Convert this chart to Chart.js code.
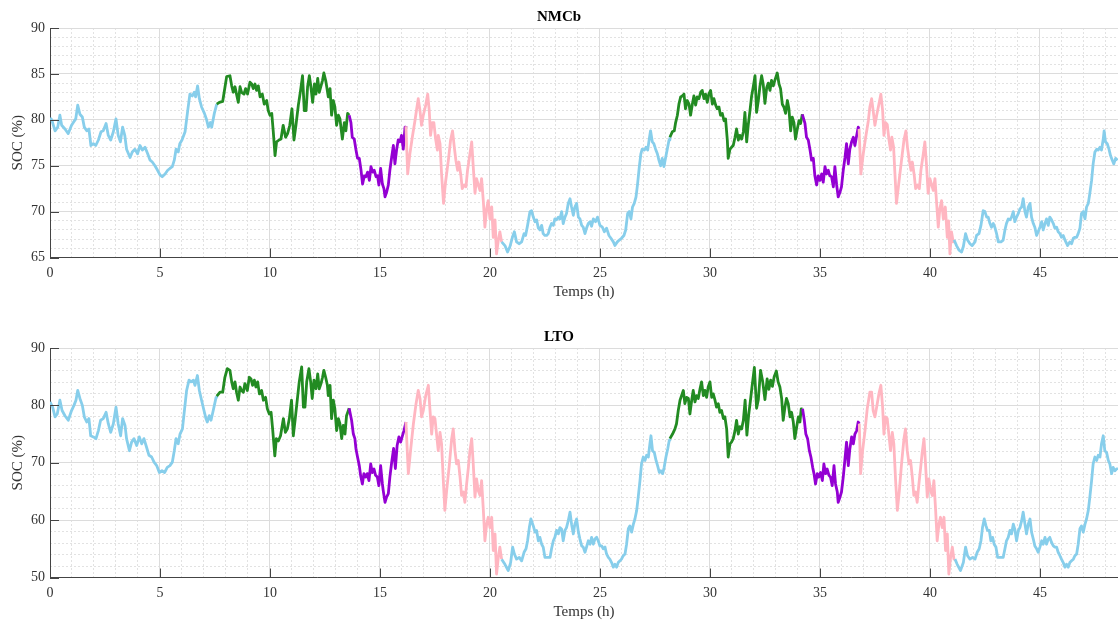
<!DOCTYPE html>
<html><head><meta charset="utf-8">
<script src="https://cdn.jsdelivr.net/npm/chart.js@4.4.0/dist/chart.umd.min.js"></script>
<style>
html,body{margin:0;padding:0;background:#fff;overflow:hidden;width:1118px;height:621px;}
.wrap{position:absolute;left:0;width:1118px;height:305px;}
</style></head><body>
<div class="wrap" style="top:0"><canvas id="c1" width="1118" height="305"></canvas></div>
<div class="wrap" style="top:320px"><canvas id="c2" width="1118" height="305"></canvas></div>
<script>
// ---------- DATA ----------
const xTicks = [0, 5, 10, 15, 20, 25, 30, 35, 40, 45];
const titles = ['NMCb', 'LTO'];
const xLabel = 'Temps (h)';
const yLabel = 'SOC (%)';
// phase boundaries (h) and phase kind (0: blue, 1: green, 2: purple, 3: pink)
const phaseStart = [0, 7.58, 13.6, 16.18, 20.5, 28.18, 34.21, 36.79, 41.12];
const phaseKind  = [0, 1, 2, 3, 0, 1, 2, 3, 0];

// [time (h), SOC (%)]
const nmcbPoints = [
[0,80.2],[0.08,80.0],[0.23,78.8],[0.35,79.2],[0.45,80.5],[0.53,79.4],[0.68,79.0],[0.83,78.5],[0.98,79.4],[1.06,79.7],[1.17,80.1],[1.26,81.6],[1.36,80.6],[1.47,80.3],[1.56,79.2],[1.67,78.8],[1.77,79.0],[1.86,77.2],[1.97,77.4],[2.08,77.2],[2.2,77.8],[2.32,78.7],[2.42,78.8],[2.55,79.6],[2.65,78.3],[2.76,77.8],[2.88,78.7],[3.0,80.1],[3.1,78.3],[3.2,77.6],[3.3,79.2],[3.4,78.3],[3.48,76.8],[3.64,75.9],[3.74,76.5],[3.86,76.8],[3.98,76.3],[4.09,77.2],[4.2,76.7],[4.32,77.0],[4.44,76.3],[4.55,75.6],[4.65,75.4],[4.77,75.0],[4.89,74.5],[5.0,74.0],[5.1,73.8],[5.23,74.1],[5.35,74.5],[5.45,74.7],[5.56,74.9],[5.65,75.6],[5.73,76.8],[5.83,76.5],[5.9,77.4],[6.0,77.8],[6.14,78.7],[6.26,81.0],[6.36,82.8],[6.47,82.6],[6.56,83.0],[6.62,82.5],[6.71,83.7],[6.79,82.3],[6.89,81.4],[7.02,80.7],[7.12,80.0],[7.2,79.2],[7.29,79.7],[7.35,79.2],[7.47,80.7],[7.58,81.7],
[7.7,81.9],[7.85,82.0],[7.95,83.5],[8.03,84.7],[8.18,84.8],[8.26,83.7],[8.33,83.0],[8.41,83.6],[8.48,82.8],[8.56,81.9],[8.64,83.6],[8.71,83.0],[8.82,82.8],[8.89,83.4],[8.98,82.8],[9.09,84.1],[9.17,83.9],[9.24,83.4],[9.32,83.9],[9.39,83.2],[9.47,83.7],[9.55,82.5],[9.65,82.8],[9.74,81.7],[9.85,82.1],[9.92,81.0],[10.0,80.5],[10.08,80.7],[10.15,78.7],[10.23,76.1],[10.3,77.6],[10.41,77.8],[10.5,77.9],[10.6,79.4],[10.71,78.1],[10.8,78.5],[10.9,79.4],[11.0,81.2],[11.09,77.8],[11.18,79.4],[11.29,81.6],[11.39,83.2],[11.48,84.8],[11.56,81.0],[11.64,81.0],[11.71,83.6],[11.79,84.8],[11.86,83.6],[11.94,81.9],[12.02,83.9],[12.09,82.8],[12.17,84.5],[12.24,83.0],[12.32,83.7],[12.39,84.3],[12.45,85.1],[12.53,84.3],[12.58,83.6],[12.65,82.5],[12.73,83.4],[12.8,80.5],[12.88,82.1],[12.95,81.4],[13.03,79.4],[13.11,80.5],[13.18,80.1],[13.29,77.9],[13.38,79.7],[13.45,78.8],[13.53,80.7],[13.6,80.5],
[13.68,79.7],[13.74,78.1],[13.83,77.9],[13.91,76.7],[13.98,75.8],[14.06,75.8],[14.14,74.5],[14.21,73.0],[14.29,73.9],[14.36,73.8],[14.44,74.3],[14.52,73.4],[14.59,74.9],[14.67,74.3],[14.74,74.5],[14.82,73.8],[14.89,73.9],[14.95,72.9],[15.03,74.7],[15.11,73.0],[15.18,72.5],[15.23,71.6],[15.3,72.1],[15.38,72.9],[15.45,74.5],[15.53,75.9],[15.61,77.2],[15.68,75.2],[15.76,76.8],[15.83,77.8],[15.91,77.6],[15.98,78.3],[16.06,76.8],[16.14,79.2],[16.18,79.3],
[16.26,74.1],[16.36,76.3],[16.47,78.1],[16.59,79.9],[16.67,81.2],[16.74,82.3],[16.82,81.0],[16.89,79.4],[16.97,80.5],[17.08,81.6],[17.17,82.8],[17.24,81.0],[17.3,78.3],[17.38,79.7],[17.45,79.7],[17.53,77.9],[17.61,76.7],[17.65,78.3],[17.73,77.4],[17.8,74.1],[17.89,70.9],[17.98,73.2],[18.11,75.6],[18.21,77.8],[18.3,78.8],[18.38,77.0],[18.45,75.6],[18.53,74.5],[18.59,75.4],[18.68,73.9],[18.74,72.5],[18.83,72.9],[18.91,72.7],[18.98,74.5],[19.09,76.3],[19.17,77.6],[19.24,74.9],[19.32,72.0],[19.39,73.6],[19.47,72.9],[19.55,72.3],[19.62,73.6],[19.7,71.1],[19.77,68.3],[19.85,70.3],[19.92,71.2],[20.0,69.2],[20.08,70.5],[20.15,67.2],[20.23,69.1],[20.3,65.4],[20.38,66.9],[20.45,67.8],[20.53,66.7],
[20.68,66.3],[20.8,65.6],[20.91,66.2],[21.02,67.2],[21.11,67.8],[21.21,66.7],[21.32,66.5],[21.44,66.7],[21.55,67.6],[21.62,67.4],[21.71,68.5],[21.82,70.0],[21.89,70.1],[21.97,69.4],[22.05,68.9],[22.12,69.1],[22.2,68.2],[22.27,68.0],[22.35,68.5],[22.42,67.6],[22.5,67.4],[22.58,67.4],[22.65,67.6],[22.73,68.3],[22.8,68.7],[22.88,68.5],[22.95,69.2],[23.03,69.1],[23.11,69.4],[23.18,69.2],[23.26,70.0],[23.33,68.7],[23.41,69.4],[23.48,69.8],[23.56,70.9],[23.64,71.4],[23.71,70.5],[23.79,69.6],[23.86,70.5],[23.94,70.9],[24.02,69.4],[24.09,69.2],[24.17,68.5],[24.24,68.3],[24.32,67.6],[24.39,68.2],[24.47,68.7],[24.55,68.9],[24.62,68.4],[24.7,69.2],[24.8,68.9],[24.89,69.4],[25.0,68.5],[25.11,68.3],[25.2,67.8],[25.3,68.2],[25.41,67.4],[25.5,67.1],[25.61,66.7],[25.68,66.3],[25.79,66.7],[25.88,66.9],[25.98,67.1],[26.09,67.4],[26.17,68.0],[26.26,69.8],[26.33,70.0],[26.41,69.2],[26.48,70.5],[26.56,70.9],[26.64,71.6],[26.71,73.0],[26.79,74.9],[26.86,76.3],[26.92,76.8],[27.02,76.7],[27.09,77.0],[27.17,76.7],[27.24,77.9],[27.3,78.8],[27.38,77.6],[27.45,77.4],[27.53,76.8],[27.61,76.3],[27.68,75.6],[27.76,75.0],[27.83,75.8],[27.91,74.9],[27.98,75.8],[28.06,76.8],[28.14,77.8],[28.18,78.1],
[28.29,78.7],[28.38,78.8],[28.44,79.7],[28.52,80.5],[28.59,81.7],[28.67,82.5],[28.74,82.6],[28.82,82.8],[28.89,81.2],[28.97,82.1],[29.05,81.7],[29.12,80.5],[29.2,81.7],[29.27,82.6],[29.35,81.6],[29.42,82.5],[29.5,82.3],[29.58,83.0],[29.65,83.2],[29.73,82.3],[29.8,82.8],[29.88,81.9],[29.95,82.8],[30.03,83.2],[30.11,81.7],[30.18,82.3],[30.26,81.6],[30.33,81.2],[30.41,81.4],[30.48,80.5],[30.56,80.7],[30.64,79.9],[30.71,80.1],[30.79,77.8],[30.83,75.8],[30.91,76.8],[30.98,77.0],[31.06,77.2],[31.14,78.1],[31.21,79.0],[31.29,77.8],[31.36,78.3],[31.44,77.9],[31.52,78.7],[31.59,80.8],[31.67,77.6],[31.74,79.4],[31.82,81.0],[31.89,82.5],[31.97,83.6],[32.05,84.8],[32.12,80.8],[32.2,82.1],[32.27,83.6],[32.35,84.8],[32.42,83.9],[32.5,81.8],[32.58,83.5],[32.65,84.0],[32.73,83.2],[32.8,84.3],[32.88,83.7],[32.95,84.3],[33.06,85.1],[33.14,83.9],[33.21,83.4],[33.29,81.7],[33.36,81.4],[33.44,80.7],[33.52,82.1],[33.59,81.2],[33.67,78.8],[33.74,80.3],[33.82,79.7],[33.89,77.9],[33.97,79.0],[34.05,79.9],[34.12,79.6],[34.2,80.6],
[34.32,79.6],[34.39,78.1],[34.47,77.8],[34.55,76.7],[34.62,75.6],[34.7,75.8],[34.77,73.9],[34.85,72.9],[34.92,73.9],[35.0,73.4],[35.08,74.1],[35.15,73.2],[35.23,74.9],[35.3,74.1],[35.38,74.5],[35.45,73.9],[35.53,73.8],[35.61,72.7],[35.68,74.9],[35.76,72.9],[35.83,71.6],[35.91,72.1],[35.98,72.7],[36.06,74.5],[36.14,75.9],[36.21,77.4],[36.29,75.2],[36.36,76.8],[36.44,77.6],[36.52,78.1],[36.59,77.2],[36.67,78.3],[36.74,79.2],[36.78,79.0],
[36.86,74.1],[36.97,76.3],[37.08,78.1],[37.2,79.9],[37.27,81.4],[37.35,82.3],[37.42,81.0],[37.5,79.4],[37.58,80.5],[37.68,81.7],[37.77,82.8],[37.85,81.0],[37.91,78.3],[37.98,79.7],[38.06,79.5],[38.14,77.8],[38.21,76.7],[38.27,78.1],[38.35,77.0],[38.41,74.1],[38.48,70.9],[38.59,73.2],[38.71,75.6],[38.82,77.8],[38.91,78.8],[38.98,77.0],[39.06,75.6],[39.14,74.5],[39.2,75.4],[39.29,73.9],[39.35,72.5],[39.44,72.9],[39.52,72.5],[39.59,74.5],[39.7,76.3],[39.77,77.6],[39.85,74.9],[39.92,72.0],[40.0,73.6],[40.08,72.9],[40.15,72.3],[40.23,73.6],[40.3,71.1],[40.38,68.3],[40.45,70.3],[40.53,71.2],[40.61,69.2],[40.7,70.5],[40.79,67.2],[40.85,69.0],[40.91,65.4],[40.98,67.8],[41.06,66.7],[41.1,66.9],
[41.21,66.3],[41.32,65.8],[41.44,65.6],[41.52,66.2],[41.62,67.6],[41.71,66.9],[41.82,66.5],[41.92,66.3],[42.05,66.7],[42.12,67.4],[42.23,67.6],[42.32,68.5],[42.42,70.1],[42.5,70.0],[42.58,69.4],[42.65,69.4],[42.73,68.7],[42.8,68.3],[42.88,68.7],[42.95,68.3],[43.03,67.6],[43.11,66.7],[43.23,66.7],[43.33,66.9],[43.41,68.0],[43.48,68.7],[43.56,69.2],[43.64,69.1],[43.71,69.4],[43.79,70.0],[43.86,68.9],[43.94,69.4],[44.02,69.8],[44.09,70.3],[44.17,70.5],[44.24,71.4],[44.32,70.0],[44.39,69.4],[44.47,70.5],[44.55,70.9],[44.62,69.4],[44.7,68.7],[44.77,68.3],[44.85,67.4],[44.92,67.8],[45.0,68.3],[45.08,68.9],[45.15,68.0],[45.23,68.7],[45.3,69.2],[45.38,68.5],[45.45,69.4],[45.53,69.1],[45.61,68.7],[45.68,68.2],[45.76,68.3],[45.83,67.8],[45.91,67.6],[45.98,67.2],[46.06,67.4],[46.14,66.9],[46.26,66.3],[46.36,66.7],[46.44,66.5],[46.52,67.1],[46.59,67.2],[46.67,67.2],[46.74,67.6],[46.82,68.2],[46.89,69.8],[46.97,70.0],[47.05,69.2],[47.12,70.5],[47.2,70.9],[47.27,72.0],[47.35,73.4],[47.42,75.2],[47.5,76.5],[47.58,76.8],[47.65,76.7],[47.73,77.0],[47.8,76.7],[47.88,77.9],[47.92,78.8],[47.98,77.6],[48.06,77.4],[48.14,76.8],[48.21,76.1],[48.29,75.6],[48.36,75.2],[48.44,75.8],[48.53,75.6]
];

const ltoPoints = [
[0,80.6],[0.12,79.7],[0.23,78.0],[0.33,78.5],[0.45,80.9],[0.55,79.1],[0.68,78.2],[0.83,77.4],[0.98,79.1],[1.09,80.0],[1.18,80.9],[1.26,82.6],[1.36,81.2],[1.47,80.0],[1.56,78.0],[1.67,77.1],[1.77,77.7],[1.85,74.7],[1.97,74.5],[2.09,74.2],[2.2,75.6],[2.3,77.4],[2.42,77.7],[2.55,78.8],[2.65,76.8],[2.76,75.3],[2.88,76.8],[3.0,79.7],[3.1,76.8],[3.21,74.7],[3.3,77.7],[3.41,76.5],[3.48,74.2],[3.61,72.1],[3.71,73.6],[3.82,74.2],[3.94,73.0],[4.06,74.5],[4.17,73.3],[4.27,74.2],[4.39,72.7],[4.5,71.3],[4.62,71.0],[4.73,70.1],[4.85,69.5],[4.97,68.3],[5.09,68.6],[5.21,68.3],[5.33,69.2],[5.45,69.5],[5.56,70.1],[5.65,72.1],[5.73,74.2],[5.83,73.3],[5.91,75.0],[6.02,75.9],[6.11,79.1],[6.21,82.6],[6.32,84.4],[6.41,84.1],[6.52,84.4],[6.59,83.5],[6.7,85.2],[6.79,82.6],[6.89,80.9],[7.0,79.1],[7.09,77.7],[7.15,77.1],[7.24,78.2],[7.32,77.4],[7.42,79.1],[7.55,81.4],[7.58,81.6],
[7.73,82.3],[7.85,82.3],[7.95,84.9],[8.06,86.4],[8.18,86.1],[8.26,84.1],[8.33,82.9],[8.41,84.1],[8.48,82.3],[8.56,80.9],[8.64,83.2],[8.71,82.6],[8.79,82.3],[8.86,83.8],[8.97,82.6],[9.06,84.9],[9.14,84.6],[9.21,83.5],[9.29,84.4],[9.36,83.2],[9.44,84.1],[9.52,82.0],[9.62,82.6],[9.7,80.9],[9.8,81.4],[9.88,79.4],[9.97,78.5],[10.05,78.8],[10.12,75.9],[10.22,71.2],[10.29,74.2],[10.38,73.8],[10.48,74.7],[10.61,77.7],[10.7,75.3],[10.79,75.9],[10.88,77.7],[10.98,80.9],[11.06,74.7],[11.14,77.4],[11.24,80.9],[11.33,84.1],[11.44,86.7],[11.52,79.7],[11.59,79.7],[11.67,84.1],[11.77,86.4],[11.85,84.1],[11.92,81.2],[12.0,84.4],[12.09,82.9],[12.17,85.5],[12.24,82.9],[12.32,83.8],[12.39,84.9],[12.45,86.1],[12.53,84.9],[12.61,83.5],[12.65,81.7],[12.73,83.5],[12.8,77.7],[12.88,80.9],[12.95,79.4],[13.03,75.6],[13.11,77.7],[13.18,76.8],[13.26,74.2],[13.33,76.5],[13.41,75.0],[13.48,78.2],[13.6,79.5],
[13.71,77.4],[13.79,75.0],[13.86,74.2],[13.91,72.4],[13.98,71.0],[14.06,69.5],[14.12,67.8],[14.2,66.3],[14.27,68.1],[14.35,67.5],[14.42,68.1],[14.5,66.9],[14.58,69.8],[14.65,68.3],[14.73,68.9],[14.8,67.8],[14.88,67.5],[14.95,66.0],[15.03,69.5],[15.11,66.3],[15.15,65.1],[15.23,63.1],[15.3,64.0],[15.38,64.6],[15.45,67.5],[15.53,70.0],[15.62,72.5],[15.7,69.0],[15.78,73.0],[15.86,74.5],[15.94,73.6],[16.02,74.7],[16.09,75.6],[16.18,77.1],
[16.29,68.1],[16.39,72.1],[16.52,76.8],[16.64,80.3],[16.74,82.6],[16.82,81.2],[16.89,78.0],[16.97,79.1],[17.08,81.7],[17.2,83.5],[17.27,79.4],[17.35,75.0],[17.42,78.0],[17.5,77.7],[17.58,74.7],[17.65,72.1],[17.73,75.3],[17.8,73.3],[17.88,66.9],[17.95,61.7],[18.03,65.1],[18.15,69.5],[18.26,74.2],[18.33,75.9],[18.41,72.1],[18.48,69.8],[18.56,70.4],[18.64,67.5],[18.71,64.3],[18.79,64.9],[18.86,63.1],[18.94,66.3],[19.02,69.2],[19.09,72.1],[19.17,74.2],[19.24,69.8],[19.32,64.0],[19.39,67.2],[19.47,65.1],[19.55,64.3],[19.62,66.9],[19.7,61.7],[19.77,56.4],[19.85,59.3],[19.92,60.5],[20.0,58.7],[20.08,60.5],[20.15,54.7],[20.23,57.6],[20.3,50.6],[20.38,53.5],[20.45,55.3],[20.53,53.2],
[20.68,52.3],[20.83,51.2],[20.94,52.6],[21.03,55.3],[21.11,54.1],[21.21,53.2],[21.33,53.5],[21.44,52.9],[21.55,54.4],[21.64,55.0],[21.71,56.4],[21.79,58.7],[21.86,60.2],[21.97,59.0],[22.05,57.9],[22.12,58.2],[22.2,56.4],[22.27,57.0],[22.35,55.8],[22.42,55.3],[22.5,53.5],[22.65,53.5],[22.73,53.5],[22.8,55.0],[22.88,56.4],[22.95,57.0],[23.03,58.2],[23.11,57.6],[23.18,58.7],[23.26,58.4],[23.33,56.4],[23.41,58.2],[23.48,58.7],[23.56,59.9],[23.64,61.4],[23.71,59.3],[23.79,57.6],[23.86,59.3],[23.94,60.2],[24.02,57.9],[24.09,56.7],[24.17,55.5],[24.24,55.3],[24.32,54.4],[24.39,55.3],[24.47,56.4],[24.55,55.8],[24.62,57.0],[24.7,55.8],[24.77,56.7],[24.85,57.0],[24.92,56.4],[25.0,55.5],[25.08,55.5],[25.15,55.0],[25.23,55.3],[25.3,54.1],[25.38,53.5],[25.45,53.2],[25.53,52.6],[25.61,51.8],[25.68,52.3],[25.76,51.8],[25.83,52.6],[25.91,52.9],[25.98,53.2],[26.06,53.8],[26.14,54.1],[26.21,55.8],[26.29,58.5],[26.36,59.0],[26.44,57.9],[26.52,59.3],[26.59,60.2],[26.67,61.7],[26.74,64.0],[26.82,66.9],[26.89,69.8],[26.97,71.0],[27.05,70.4],[27.12,71.3],[27.2,71.0],[27.27,73.3],[27.32,74.7],[27.39,72.1],[27.47,71.8],[27.55,70.4],[27.62,69.5],[27.7,68.3],[27.77,68.6],[27.85,68.1],[27.92,69.2],[28.0,71.0],[28.08,72.4],[28.15,73.9],[28.18,74.2],
[28.3,75.0],[28.41,75.9],[28.48,76.8],[28.56,79.1],[28.64,80.9],[28.71,81.7],[28.79,82.6],[28.86,80.3],[28.94,81.4],[29.02,81.2],[29.09,78.5],[29.17,80.9],[29.24,82.6],[29.32,80.6],[29.39,81.7],[29.47,81.2],[29.55,82.9],[29.62,84.1],[29.7,81.7],[29.77,82.6],[29.85,81.4],[29.92,83.2],[30.0,84.1],[30.08,81.4],[30.15,82.0],[30.23,80.9],[30.3,79.7],[30.38,80.3],[30.45,78.8],[30.53,79.1],[30.61,77.7],[30.68,78.0],[30.76,75.9],[30.83,71.0],[30.91,73.3],[30.98,73.6],[31.06,74.2],[31.14,75.6],[31.21,77.4],[31.29,75.0],[31.36,76.3],[31.44,75.9],[31.52,77.4],[31.6,80.9],[31.68,74.8],[31.76,78.3],[31.84,80.8],[31.92,83.5],[32.02,86.6],[32.12,79.5],[32.2,81.0],[32.3,86.1],[32.4,84.1],[32.5,81.0],[32.6,84.6],[32.68,82.8],[32.76,84.4],[32.84,83.3],[32.92,85.0],[33.02,86.0],[33.1,84.1],[33.18,83.2],[33.26,81.2],[33.33,77.4],[33.41,79.7],[33.48,81.2],[33.56,80.3],[33.64,78.0],[33.71,78.8],[33.79,77.1],[33.86,74.2],[33.94,76.2],[34.02,78.0],[34.09,77.1],[34.15,79.4],[34.21,79.4],
[34.29,77.4],[34.36,75.0],[34.44,74.2],[34.52,72.1],[34.59,71.0],[34.67,69.2],[34.73,68.1],[34.8,66.3],[34.88,68.1],[34.95,67.5],[35.03,68.3],[35.11,66.9],[35.18,69.8],[35.26,68.1],[35.33,68.9],[35.41,67.8],[35.48,67.5],[35.56,66.0],[35.64,69.5],[35.71,66.3],[35.79,64.9],[35.83,63.1],[35.91,64.0],[35.98,64.9],[36.06,67.5],[36.14,70.7],[36.21,73.6],[36.29,69.5],[36.36,72.4],[36.44,74.5],[36.52,73.3],[36.59,75.0],[36.67,75.6],[36.74,77.1],[36.79,76.8],
[36.85,68.1],[36.94,72.1],[37.05,75.6],[37.15,79.4],[37.27,82.3],[37.35,82.3],[37.42,79.1],[37.5,78.0],[37.58,79.7],[37.68,82.0],[37.77,83.5],[37.85,79.7],[37.91,75.0],[37.98,78.0],[38.06,77.7],[38.14,74.7],[38.21,72.1],[38.29,75.3],[38.36,73.3],[38.44,66.9],[38.52,61.7],[38.61,65.1],[38.71,69.8],[38.82,74.2],[38.89,75.9],[38.97,72.1],[39.05,69.8],[39.12,70.4],[39.2,67.5],[39.27,64.3],[39.35,64.9],[39.42,63.1],[39.5,66.3],[39.58,69.2],[39.65,71.8],[39.73,74.2],[39.8,69.8],[39.88,64.0],[39.95,67.2],[40.03,65.1],[40.11,64.3],[40.18,66.9],[40.26,61.7],[40.33,56.4],[40.41,59.3],[40.48,60.5],[40.56,58.7],[40.64,60.5],[40.71,54.7],[40.79,57.6],[40.86,50.6],[40.94,53.5],[41.02,55.3],[41.09,53.2],
[41.14,53.2],[41.24,52.3],[41.39,51.2],[41.52,52.6],[41.62,55.3],[41.71,53.8],[41.82,53.2],[41.94,53.5],[42.05,53.2],[42.15,54.4],[42.24,55.0],[42.32,56.4],[42.39,58.7],[42.47,60.2],[42.55,59.0],[42.62,58.2],[42.7,58.2],[42.77,56.4],[42.85,57.0],[42.92,55.8],[43.0,55.3],[43.08,53.5],[43.23,53.5],[43.33,53.5],[43.41,55.0],[43.48,56.4],[43.56,57.0],[43.64,58.2],[43.71,57.6],[43.79,59.3],[43.86,58.4],[43.94,56.4],[44.02,58.2],[44.09,58.7],[44.17,59.9],[44.24,61.4],[44.32,59.3],[44.39,57.6],[44.47,59.3],[44.55,60.2],[44.62,57.9],[44.7,56.7],[44.77,55.5],[44.85,55.0],[44.92,54.4],[45.0,55.3],[45.08,56.4],[45.15,55.8],[45.23,57.0],[45.3,55.8],[45.38,56.7],[45.45,57.0],[45.53,56.1],[45.61,55.5],[45.68,55.3],[45.76,55.3],[45.83,54.4],[45.91,53.8],[45.98,53.2],[46.06,52.6],[46.14,51.8],[46.21,52.3],[46.29,51.8],[46.36,52.6],[46.44,52.9],[46.52,53.2],[46.59,53.8],[46.67,54.1],[46.74,55.8],[46.82,58.5],[46.89,59.0],[46.97,57.9],[47.05,59.3],[47.12,60.2],[47.2,61.7],[47.27,64.0],[47.35,66.9],[47.42,69.8],[47.5,71.0],[47.58,70.4],[47.65,71.3],[47.73,71.0],[47.8,73.3],[47.88,74.7],[47.95,72.1],[48.03,71.8],[48.11,70.4],[48.18,69.8],[48.26,68.1],[48.33,69.2],[48.41,68.6],[48.48,68.9],[48.55,69.0]
];

// axis ranges
const xRange = [0, 48.55];
const nmcbYTicks = [65, 70, 75, 80, 85, 90];
const ltoYTicks = [50, 60, 70, 80, 90];

// ---------- STYLE ----------
const FONT = "'Liberation Serif','Times New Roman',serif";
const phaseColors = ['#87CEEB', '#228B22', '#9400D3', '#FFB6C1'];

function colorAt(t) {
  let k = 0;
  for (let i = 0; i < phaseStart.length; i++) if (t >= phaseStart[i]) k = i;
  return phaseColors[phaseKind[k]];
}

const innerTicks = {
  id: 'innerTicks',
  afterDatasetsDraw(chart) {
    const {ctx, chartArea, scales} = chart;
    const x = scales.x, y = scales.y;
    ctx.save();
    ctx.strokeStyle = '#444';
    ctx.lineWidth = 1;
    x.ticks.forEach(t => {
      const px = Math.round(x.getPixelForValue(t.value)) + 0.5;
      ctx.beginPath(); ctx.moveTo(px, chartArea.bottom); ctx.lineTo(px, chartArea.bottom - 9); ctx.stroke();
    });
    y.ticks.forEach(t => {
      const py = Math.round(y.getPixelForValue(t.value)) + 0.5;
      ctx.beginPath(); ctx.moveTo(chartArea.left, py); ctx.lineTo(chartArea.left + 9, py); ctx.stroke();
    });
    ctx.restore();
  }
};

function makeChart(id, title, points, yTicks) {
  const yMin = yTicks[0], yMax = yTicks[yTicks.length - 1];
  const yStep = yTicks[1] - yTicks[0];
  const yMinorStep = yStep / 5;
  const xStep = xTicks[1] - xTicks[0];
  return new Chart(document.getElementById(id), {
    type: 'line',
    data: {
      datasets: [{
        data: points.map(p => ({x: p[0], y: p[1]})),
        borderColor: phaseColors[0],
        borderWidth: 2.8,
        pointRadius: 0,
        tension: 0,
        borderJoinStyle: 'round',
        segment: {
          borderColor: c => colorAt((c.p0.parsed.x + c.p1.parsed.x) / 2)
        }
      }]
    },
    options: {
      responsive: false,
      animation: false,
      devicePixelRatio: 1,
      layout: {padding: 0},
      plugins: {
        legend: {display: false},
        tooltip: {enabled: false},
        title: {
          display: true, text: title, color: '#000',
          font: {family: FONT, size: 15, weight: 'bold'},
          padding: {top: 8, bottom: 2}
        }
      },
      scales: {
        xMinor: {
          type: 'linear', position: 'bottom', min: xRange[0], max: xRange[1],
          afterFit: s => { s.height = 0; },
          ticks: {display: false, stepSize: 1, includeBounds: false},
          grid: {drawTicks: false, lineWidth: 1,
                 color: c => (c.tick && Math.abs(c.tick.value % xStep) < 1e-6) ? 'rgba(0,0,0,0)' : '#e2e2e2'},
          border: {display: false, dash: [2, 2]}
        },
        yMinor: {
          type: 'linear', position: 'left', min: yMin, max: yMax,
          afterFit: s => { s.width = 0; },
          ticks: {display: false, stepSize: yMinorStep, includeBounds: false},
          grid: {drawTicks: false, lineWidth: 1,
                 color: c => (c.tick && Math.abs((c.tick.value - yMin) % yStep) < 1e-6) ? 'rgba(0,0,0,0)' : '#e2e2e2'},
          border: {display: false, dash: [2, 2]}
        },
        x: {
          type: 'linear', position: 'bottom', min: xRange[0], max: xRange[1],
          afterFit: s => { s.height = 47.5; },
          afterBuildTicks: s => { s.ticks = xTicks.map(v => ({value: v})); },
          ticks: {color: '#333', font: {family: FONT, size: 14}, padding: 7, maxRotation: 0, autoSkip: false},
          grid: {drawTicks: false, color: '#dcdcdc', lineWidth: 1},
          border: {color: '#444', width: 1},
          title: {display: true, text: xLabel, color: '#333', font: {family: FONT, size: 15}, padding: {top: 3.5, bottom: 3.5}}
        },
        y: {
          type: 'linear', position: 'left', min: yMin, max: yMax,
          afterFit: s => { s.width = 50; },
          afterBuildTicks: s => { s.ticks = yTicks.map(v => ({value: v})); },
          ticks: {color: '#333', font: {family: FONT, size: 14}, padding: 5},
          grid: {drawTicks: false, color: '#dcdcdc', lineWidth: 1},
          border: {color: '#444', width: 1},
          title: {display: true, text: yLabel, color: '#333', font: {family: FONT, size: 15}, padding: {top: 9, bottom: 9}}
        }
      }
    },
    plugins: [innerTicks]
  });
}

makeChart('c1', titles[0], nmcbPoints, nmcbYTicks);
makeChart('c2', titles[1], ltoPoints, ltoYTicks);
</script>
</body></html>
